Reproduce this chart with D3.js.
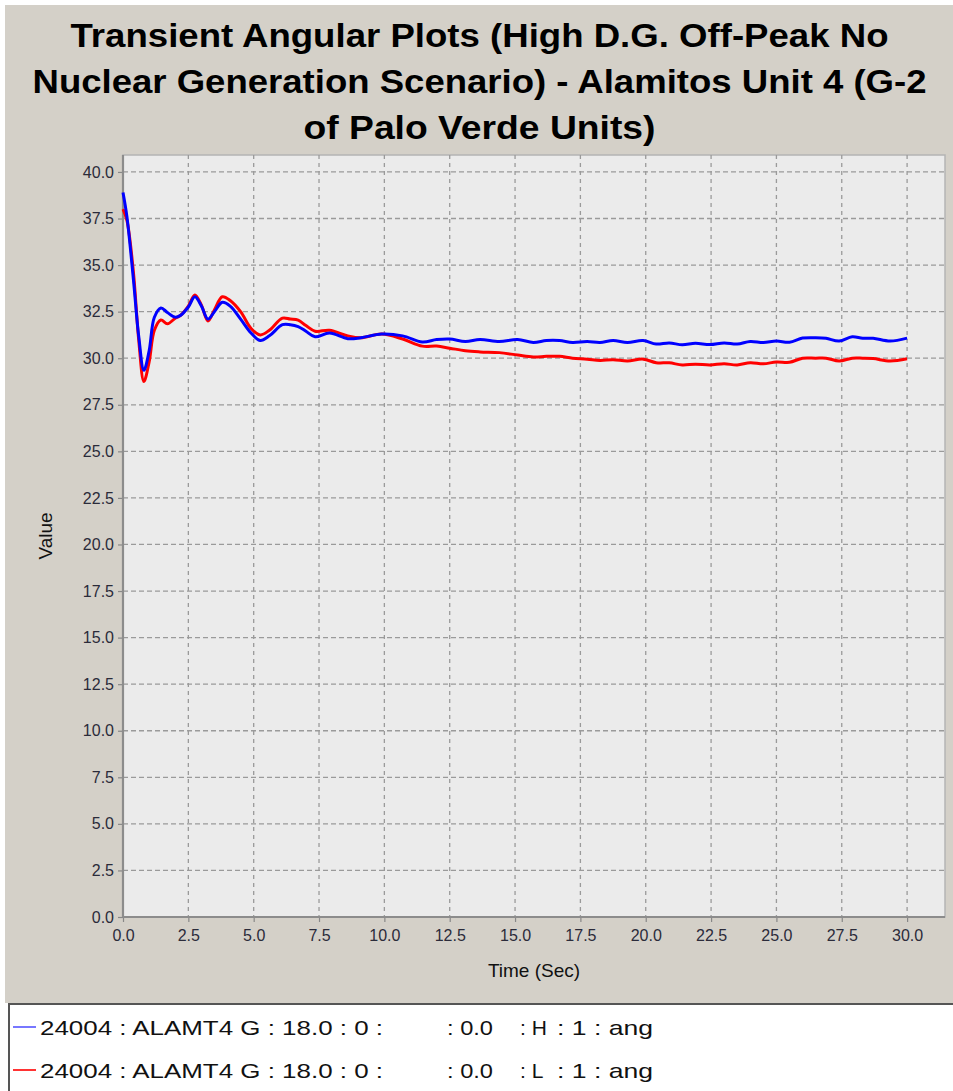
<!DOCTYPE html>
<html>
<head>
<meta charset="utf-8">
<script src="https://cdn.jsdelivr.net/npm/d3@7"></script>
<style>
  html, body { margin: 0; padding: 0; background: #fff; }
  svg { display: block; font-family: "Liberation Sans", Arial, sans-serif; }
</style>
</head>
<body>
<script>
// sample times (sec)
const times = [0, 0.15, 0.4, 0.6, 0.8, 1.0, 1.2, 1.45, 1.7, 2.0, 2.2, 2.5, 2.75, 3.0, 3.25, 3.5, 3.8, 4.1, 4.5, 4.9,
  5.25, 5.6, 6.1, 6.4, 6.7, 7.0, 7.35, 7.9, 8.6, 9.1, 9.9, 10.7, 11.45, 12.0, 12.5, 13.1, 13.66, 14.4, 15.1, 15.7,
  16.2, 16.7, 17.2, 17.76, 18.25, 18.75, 19.3, 19.9, 20.4, 20.9, 21.4, 21.9, 22.46, 23.0, 23.5, 24.0, 24.5, 25.0,
  25.5, 26.0, 26.5, 26.9, 27.4, 27.9, 28.3, 28.7, 29.35, 30.0];

// H series (blue)
const angH = [38.9, 37.6, 34.2, 31.2, 29.35, 30.4, 32.2, 32.7, 32.45, 32.2, 32.3, 32.75, 33.3, 32.8, 32.1, 32.5, 33.0, 32.8, 32.1, 31.35,
  30.95, 31.2, 31.8, 31.8, 31.7, 31.45, 31.15, 31.35, 31.05, 31.1, 31.3, 31.2, 30.87, 31.0, 31.03, 30.9, 31.0, 30.9, 31.0, 30.85,
  30.95, 30.95, 30.85, 30.9, 30.85, 30.95, 30.85, 30.95, 30.76, 30.82, 30.72, 30.8, 30.73, 30.82, 30.76, 30.9, 30.84, 30.92,
  30.86, 31.08, 31.1, 31.07, 30.92, 31.15, 31.07, 31.07, 30.92, 31.08];

// L series (red)
const angL = [38.0, 37.4, 34.6, 31.0, 28.75, 29.8, 31.5, 32.05, 31.85, 32.15, 32.3, 32.8, 33.4, 32.85, 32.0, 32.6, 33.3, 33.1, 32.5, 31.6,
  31.25, 31.5, 32.15, 32.1, 32.05, 31.75, 31.45, 31.5, 31.2, 31.1, 31.3, 31.03, 30.65, 30.65, 30.54, 30.4, 30.34, 30.3, 30.17, 30.07,
  30.1, 30.1, 30.0, 29.95, 29.88, 29.92, 29.85, 29.95, 29.76, 29.75, 29.64, 29.68, 29.64, 29.7, 29.64, 29.76, 29.7, 29.8,
  29.78, 30.0, 30.0, 30.0, 29.85, 30.0, 30.0, 29.98, 29.85, 29.97];

const titleLines = [
  "Transient Angular Plots (High D.G. Off-Peak No",
  "Nuclear Generation Scenario) - Alamitos Unit 4 (G-2",
  "of Palo Verde Units)"
];

const xTicks = d3.range(0, 30.01, 2.5);
const yTicks = d3.range(0, 40.01, 2.5);

const seriesNames = ["H", "L"];
const seriesColors = ["#0000ff", "#ff0000"];
const legendColors = ["#7777ff", "#ff3333"];
const legendParts = ["24004 : ALAMT4 G : 18.0 : 0 :", ": 0.0", ": ", ": 1 : ang"];

const W = 953, H = 1091;
const plot = { left: 123, top: 155, right: 945, bottom: 917 };

const svg = d3.select("body").append("svg")
    .attr("width", W)
    .attr("height", H);

// background
svg.append("rect").attr("width", W).attr("height", H).attr("fill", "#fff");
svg.append("rect")
    .attr("x", 5).attr("y", 5)
    .attr("width", W - 5).attr("height", 998)
    .attr("fill", "#d4d0c8");

// title
const titleWidths = [818, 894, 352];
svg.append("g").selectAll("text")
  .data(titleLines)
  .join("text")
    .attr("x", W / 2 + 3)
    .attr("y", (d, i) => 47 + i * 46)
    .attr("text-anchor", "middle")
    .attr("font-size", 33)
    .attr("font-weight", "bold")
    .attr("fill", "#000")
    .attr("textLength", (d, i) => titleWidths[i])
    .attr("lengthAdjust", "spacingAndGlyphs")
    .text(d => d);

// scales
const x = d3.scaleLinear().domain([0, 31.45]).range([plot.left, plot.right]);
const y = d3.scaleLinear().domain([0, 40.91]).range([plot.bottom, plot.top]);

// plot background
svg.append("rect")
    .attr("x", plot.left).attr("y", plot.top)
    .attr("width", plot.right - plot.left).attr("height", plot.bottom - plot.top)
    .attr("fill", "#ebebeb")
    .attr("stroke", "#b4b4b4")
    .attr("stroke-width", 1.5);

// grid
svg.append("g").selectAll("line")
  .data(yTicks.filter(d => d > 0))
  .join("line")
    .attr("x1", plot.left).attr("x2", plot.right)
    .attr("y1", d => y(d)).attr("y2", d => y(d))
    .attr("stroke", "#9a9a9a")
    .attr("stroke-width", 1.3)
    .attr("stroke-dasharray", "5,3");

svg.append("g").selectAll("line")
  .data(xTicks.filter(d => d > 0))
  .join("line")
    .attr("x1", d => x(d)).attr("x2", d => x(d))
    .attr("y1", plot.top).attr("y2", plot.bottom)
    .attr("stroke", "#9a9a9a")
    .attr("stroke-width", 1.3)
    .attr("stroke-dasharray", "4,4");

// axes
const fmt = d3.format(".1f");
const xAxis = svg.append("g")
    .attr("transform", `translate(0,${plot.bottom})`)
    .call(d3.axisBottom(x).tickValues(xTicks).tickFormat(fmt).tickSize(5).tickPadding(8));
const yAxis = svg.append("g")
    .attr("transform", `translate(${plot.left},0)`)
    .call(d3.axisLeft(y).tickValues(yTicks).tickFormat(fmt).tickSize(5).tickPadding(4));

[xAxis, yAxis].forEach(a => {
  a.select(".domain").remove();
  a.selectAll(".tick line").attr("stroke", "#888").attr("stroke-width", 1.2);
  a.selectAll(".tick text")
    .attr("font-size", 16)
    .attr("font-family", "Liberation Sans, Arial, sans-serif")
    .attr("fill", "#2b2b3a");
});

// axis lines
svg.append("line")
    .attr("x1", plot.left).attr("x2", plot.left)
    .attr("y1", plot.top).attr("y2", plot.bottom)
    .attr("stroke", "#8c8c8c").attr("stroke-width", 2.2);
svg.append("line")
    .attr("x1", plot.left).attr("x2", plot.right)
    .attr("y1", plot.bottom).attr("y2", plot.bottom)
    .attr("stroke", "#8c8c8c").attr("stroke-width", 2.2);

// axis labels
svg.append("text")
    .attr("x", (plot.left + plot.right) / 2)
    .attr("y", 977)
    .attr("text-anchor", "middle")
    .attr("font-size", 19)
    .attr("fill", "#111")
    .text("Time (Sec)");

svg.append("text")
    .attr("transform", `translate(52,${(plot.top + plot.bottom) / 2}) rotate(-90)`)
    .attr("text-anchor", "middle")
    .attr("font-size", 19)
    .attr("fill", "#111")
    .text("Value");

// lines
const series = [
  { name: "L", values: angL, color: seriesColors[1] },
  { name: "H", values: angH, color: seriesColors[0] }
];
const line = d3.line()
    .x((d, i) => x(times[i]))
    .y(d => y(d))
    .curve(d3.curveCatmullRom.alpha(0.5));

svg.append("g").selectAll("path")
  .data(series)
  .join("path")
    .attr("d", d => line(d.values))
    .attr("fill", "none")
    .attr("stroke", d => d.color)
    .attr("stroke-width", 3)
    .attr("stroke-linejoin", "round");

// legend
const lg = svg.append("g");
lg.append("rect")
    .attr("x", 8).attr("y", 1003)
    .attr("width", W - 8).attr("height", 88)
    .attr("fill", "#fff");
lg.append("path")
    .attr("d", `M9,1091 V1004 H${W}`)
    .attr("fill", "none")
    .attr("stroke", "#555")
    .attr("stroke-width", 2);

const rows = lg.selectAll("g.row")
  .data(seriesNames)
  .join("g")
    .attr("class", "row")
    .attr("transform", (d, i) => `translate(0,${1027 + i * 43})`);

rows.append("line")
    .attr("x1", 13).attr("x2", 36)
    .attr("stroke", (d, i) => legendColors[i])
    .attr("stroke-width", 2);

rows.each(function(name) {
  const g = d3.select(this);
  const t = g.append("text")
      .attr("y", 8)
      .attr("font-size", 21)
      .attr("fill", "#111");
  t.append("tspan").attr("x", 40).attr("textLength", 343).attr("lengthAdjust", "spacingAndGlyphs").text(legendParts[0]);
  t.append("tspan").attr("x", 447).attr("textLength", 46).attr("lengthAdjust", "spacingAndGlyphs").text(legendParts[1]);
  t.append("tspan").attr("x", 520).text(legendParts[2] + name);
  t.append("tspan").attr("x", 557).attr("textLength", 96).attr("lengthAdjust", "spacingAndGlyphs").text(legendParts[3]);
});
</script>
</body>
</html>
